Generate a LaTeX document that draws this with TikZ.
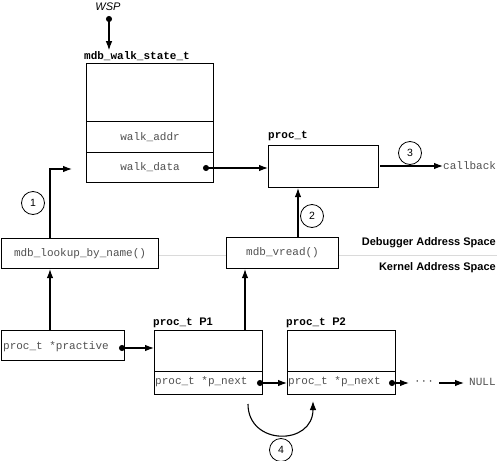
\documentclass[tikz,border=0pt]{standalone}
\usepackage{fontspec}
\setmainfont{Liberation Sans}
\setsansfont{Liberation Sans}
\setmonofont{Liberation Mono}
\usetikzlibrary{arrows.meta,calc}
\definecolor{txtgray}{HTML}{505050}
\definecolor{sepgray}{HTML}{DADADA}
\begin{document}
\begin{tikzpicture}[x=1pt,y=-1pt,
  box/.style={draw, line width=1.1pt, fill=white, inner sep=0pt, anchor=north west, font=\fontsize{11}{13}\ttfamily, text=txtgray},
  lbl/.style={inner sep=0pt, anchor=west, font=\fontsize{11}{13}\ttfamily\bfseries},
  mono/.style={inner sep=0pt, font=\fontsize{11}{13}\ttfamily, text=txtgray},
  numc/.style={draw, circle, line width=0.8pt, minimum size=23pt, inner sep=0pt, font=\fontsize{10.5}{12}\sffamily},
  arr/.style={line width=1.1pt, -{Latex[length=9pt,width=6.5pt]}},
  darr/.style={line width=1.1pt, {Circle[length=6pt]}-{Latex[length=9pt,width=6.5pt]}},
  spacelbl/.style={inner sep=0pt, anchor=east, font=\fontsize{11}{12}\sffamily\bfseries}
]
\useasboundingbox (0,0) rectangle (499,461);

% walk state
\node[box, minimum width=127pt, minimum height=58pt] (wstop) at (86,63) {};
\node[box, minimum width=127pt, minimum height=31pt] (wsaddr) at (86,121) {walk\_addr};
\node[box, minimum width=127pt, minimum height=30pt] (wsdata) at (86,152) {walk\_data};
\node[lbl] (wslbl) at (84,56) {mdb\_walk\_state\_t};
\node[font=\fontsize{11}{12}\sffamily\itshape, inner sep=0pt] (wsp) at (108,7) {WSP};
\coordinate (wspdot) at (109,16);
\draw[darr] (wspdot) -- ($(wspdot |- wslbl.north)+(0,-1)$);

% proc_t
\node[box, minimum width=110pt, minimum height=42pt] (proc) at (268,145) {};
\node[lbl] (proclbl) at (268,136) {proc\_t};
\coordinate (wsdot) at (203,168);
\draw[darr] (wsdot) -- (wsdot -| proc.west);
\node[numc] (n3) at (410,153) {3};
\node[mono, anchor=west] (cb) at (443,166) {callback};
\draw[arr] ($(proc.east |- cb)+(1,0)$) -- (cb.west);

% lookup
\node[box, minimum width=157pt, minimum height=30pt] (lookup) at (1,238) {mdb\_lookup\_by\_name()};
\node[numc] (n1) at (33,203) {1};
\coordinate (c1end) at (72,169);
\coordinate (lk) at (50,238);
\draw[arr] (lk) |- (c1end);

% separator
\coordinate (sepR) at (497,255);
\draw[sepgray, line width=0.8pt] (lookup.east |- sepR) -- (sepR);

% vread
\node[box, minimum width=112pt, minimum height=31pt] (vread) at (226,237) {mdb\_vread()};
\node[numc] (n2) at (312,216) {2};
\coordinate (v2) at (298,237);
\draw[arr] (v2) -- (v2 |- proc.south);

\node[spacelbl] (dbg) at (496,243) {Debugger Address Space};
\node[spacelbl] (kern) at (496,268) {Kernel Address Space};

% practive
\node[box, minimum width=123pt, minimum height=30pt] (pract) at (1,330) {};
\node[mono, anchor=west] (practxt) at (3,347) {proc\_t *practive};
\coordinate (pu) at (50,330);
\draw[arr] (pu) -- (pu |- lookup.south);

% P1
\node[box, minimum width=108pt, minimum height=41pt] (p1top) at (154,330) {};
\node[box, minimum width=108pt, minimum height=23pt] (p1bot) at (154,371) {};
\node[mono, anchor=west] (p1txt) at (155,382) {proc\_t *p\_next};
\node[lbl] (p1lbl) at (153,323) {proc\_t \textsf{P1}};
\coordinate (p1up) at (245,330);
\draw[arr] (p1up) -- (p1up |- vread.south);

% P2
\node[box, minimum width=108pt, minimum height=41pt] (p2top) at (287,330) {};
\node[box, minimum width=108pt, minimum height=23pt] (p2bot) at (287,371) {};
\node[mono, anchor=west] (p2txt) at (288,382) {proc\_t *p\_next};
\node[lbl] (p2lbl) at (286,323) {proc\_t \textsf{P2}};

% pointers
\coordinate (pdot) at (119,348);
\draw[darr] (pdot) -- (pdot -| p1top.west);
\coordinate (p1dot) at (257,383);
\draw[darr] (p1dot) -- (p1dot -| p2bot.west);
\coordinate (p2dot) at (389,383);
\coordinate (p2end) at (409,383);
\draw[darr] (p2dot) -- (p2end);
\node[mono] (dots) at (424,383) {···};
\node[mono, anchor=west] (null) at (469,382) {NULL};
\coordinate (nstart) at (439,383);
\draw[arr, shorten >=5pt] (nstart) -- (nstart -| null.west);

% curve 4
\coordinate (c4s) at (248,404);
\coordinate (c4e) at (313,401);
\draw[arr] (c4s) .. controls (248,446) and (313,446) .. (c4e);
\node[numc] (n4) at (281,450) {4};
\end{tikzpicture}
\end{document}
